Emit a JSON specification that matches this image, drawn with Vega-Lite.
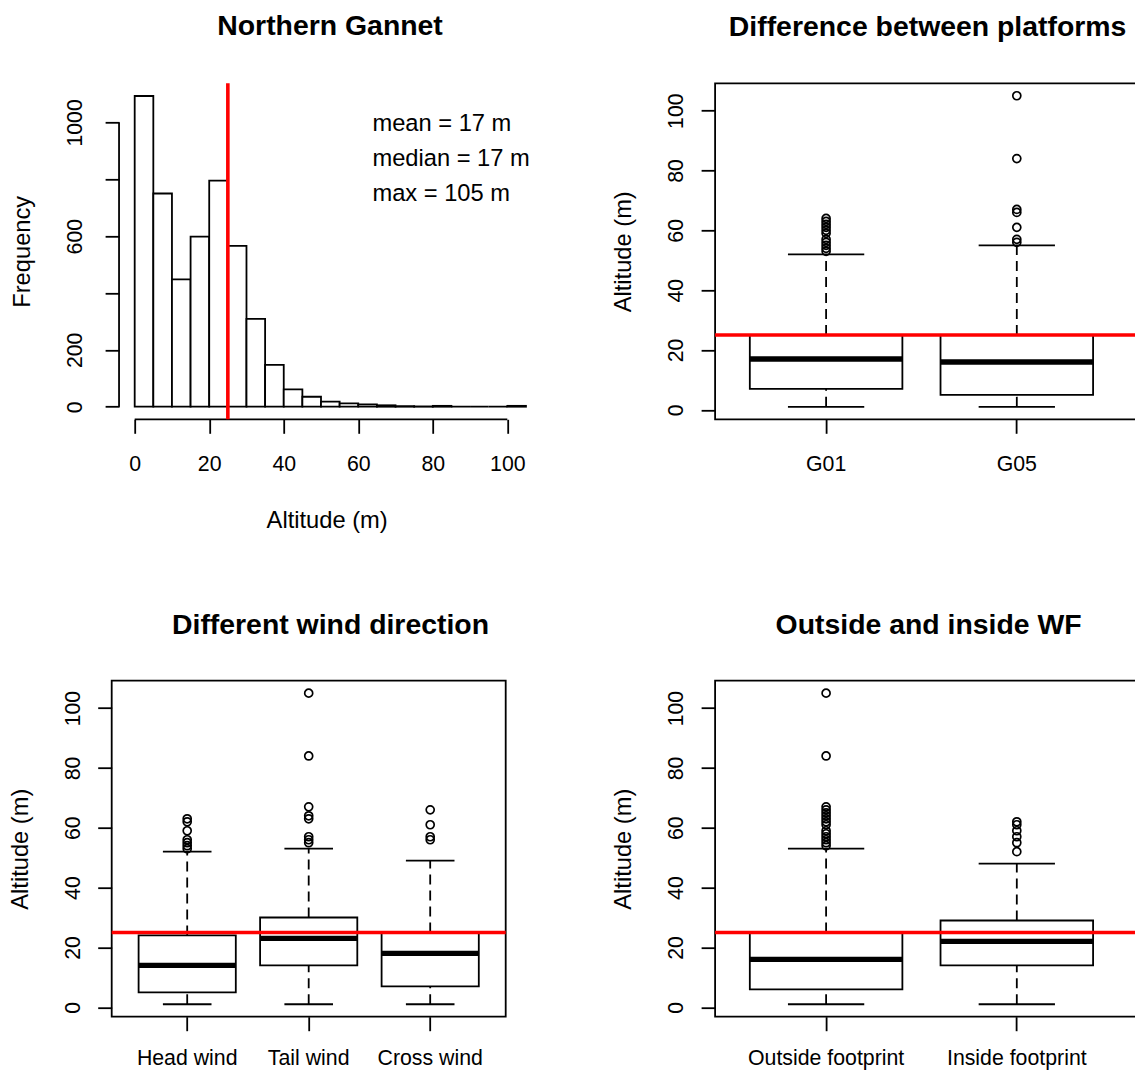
{
  "$schema": "https://vega.github.io/schema/vega-lite/v6.json",
  "autosize": {"type": "none"},
  "padding": {"left": 111.7, "top": 83.3, "right": 1023.3, "bottom": 986.7},
  "background": "white",
  "datasets": {
    "hist": [
      {"start": 0, "end": 5, "count": 1093},
      {"start": 5, "end": 10, "count": 750},
      {"start": 10, "end": 15, "count": 448},
      {"start": 15, "end": 20, "count": 598},
      {"start": 20, "end": 25, "count": 795},
      {"start": 25, "end": 30, "count": 566},
      {"start": 30, "end": 35, "count": 309},
      {"start": 35, "end": 40, "count": 147},
      {"start": 40, "end": 45, "count": 61},
      {"start": 45, "end": 50, "count": 35},
      {"start": 50, "end": 55, "count": 18},
      {"start": 55, "end": 60, "count": 12},
      {"start": 60, "end": 65, "count": 8},
      {"start": 65, "end": 70, "count": 5},
      {"start": 70, "end": 75, "count": 2},
      {"start": 75, "end": 80, "count": 1},
      {"start": 80, "end": 85, "count": 3},
      {"start": 85, "end": 90, "count": 0},
      {"start": 90, "end": 95, "count": 0},
      {"start": 95, "end": 100, "count": 0},
      {"start": 100, "end": 105, "count": 3}
    ],
    "platStats": [
      {"group": "G01", "lo": 1, "q1": 7, "median": 17, "q3": 25, "hi": 52},
      {"group": "G05", "lo": 1, "q1": 5, "median": 16, "q3": 25, "hi": 55}
    ],
    "platOut": [
      {"group": "G01", "value": 53}, {"group": "G01", "value": 54}, {"group": "G01", "value": 55},
      {"group": "G01", "value": 56}, {"group": "G01", "value": 57}, {"group": "G01", "value": 59},
      {"group": "G01", "value": 60}, {"group": "G01", "value": 61}, {"group": "G01", "value": 62},
      {"group": "G01", "value": 63}, {"group": "G01", "value": 64},
      {"group": "G05", "value": 56}, {"group": "G05", "value": 57}, {"group": "G05", "value": 61},
      {"group": "G05", "value": 66}, {"group": "G05", "value": 67}, {"group": "G05", "value": 84},
      {"group": "G05", "value": 105}
    ],
    "windStats": [
      {"group": "Head wind", "lo": 1, "q1": 5, "median": 14, "q3": 24, "hi": 52},
      {"group": "Tail wind", "lo": 1, "q1": 14, "median": 23, "q3": 30, "hi": 53},
      {"group": "Cross wind", "lo": 1, "q1": 7, "median": 18, "q3": 25, "hi": 49}
    ],
    "windOut": [
      {"group": "Head wind", "value": 53}, {"group": "Head wind", "value": 54}, {"group": "Head wind", "value": 55},
      {"group": "Head wind", "value": 56}, {"group": "Head wind", "value": 59}, {"group": "Head wind", "value": 62},
      {"group": "Head wind", "value": 63},
      {"group": "Tail wind", "value": 55}, {"group": "Tail wind", "value": 56}, {"group": "Tail wind", "value": 57},
      {"group": "Tail wind", "value": 63}, {"group": "Tail wind", "value": 64}, {"group": "Tail wind", "value": 67},
      {"group": "Tail wind", "value": 84}, {"group": "Tail wind", "value": 105},
      {"group": "Cross wind", "value": 56}, {"group": "Cross wind", "value": 57}, {"group": "Cross wind", "value": 61},
      {"group": "Cross wind", "value": 66}
    ],
    "wfStats": [
      {"group": "Outside footprint", "lo": 1, "q1": 6, "median": 16, "q3": 25, "hi": 53},
      {"group": "Inside footprint", "lo": 1, "q1": 14, "median": 22, "q3": 29, "hi": 48}
    ],
    "wfOut": [
      {"group": "Outside footprint", "value": 54}, {"group": "Outside footprint", "value": 55},
      {"group": "Outside footprint", "value": 56}, {"group": "Outside footprint", "value": 57},
      {"group": "Outside footprint", "value": 58}, {"group": "Outside footprint", "value": 59},
      {"group": "Outside footprint", "value": 61}, {"group": "Outside footprint", "value": 62},
      {"group": "Outside footprint", "value": 63}, {"group": "Outside footprint", "value": 64},
      {"group": "Outside footprint", "value": 65}, {"group": "Outside footprint", "value": 66},
      {"group": "Outside footprint", "value": 67}, {"group": "Outside footprint", "value": 84},
      {"group": "Outside footprint", "value": 105},
      {"group": "Inside footprint", "value": 52}, {"group": "Inside footprint", "value": 55},
      {"group": "Inside footprint", "value": 57}, {"group": "Inside footprint", "value": 59},
      {"group": "Inside footprint", "value": 61}, {"group": "Inside footprint", "value": 62}
    ]
  },
  "columns": 2,
  "spacing": {"row": 261.4, "column": 173.4},
  "bounds": "flush",
  "align": "each",
  "concat": [
    {
      "width": 429.9,
      "height": 336,
      "view": {"stroke": null},
      "title": {"text": "Northern Gannet", "dx": 3.4},
      "layer": [
        {
          "data": {"name": "hist"},
          "mark": {"type": "bar", "fill": "white", "stroke": "black", "strokeWidth": 1.8},
          "encoding": {
            "x": {"field": "start", "type": "quantitative", "title": "Altitude (m)",
                  "scale": {"domain": [-6.17, 109.2], "nice": false, "zero": false},
                  "axis": {"values": [0, 20, 40, 60, 80, 100], "labelPadding": 20, "titlePadding": 34}},
            "x2": {"field": "end"},
            "y": {"field": "count", "type": "quantitative", "title": "Frequency",
                  "scale": {"domain": [-44.3, 1137.6], "nice": false, "zero": false},
                  "axis": {"values": [0, 200, 400, 600, 800, 1000], "format": "d", "offset": -7.4, "labelPadding": 19.4, "titlePadding": 30,
                           "labelExpr": "datum.value == 400 || datum.value == 800 ? '' : datum.label"}},
            "y2": {"datum": 0}
          }
        },
        {
          "data": {"values": [{}]},
          "mark": {"type": "rule", "color": "black", "strokeWidth": 1.8},
          "encoding": {"x": {"datum": 0}, "x2": {"datum": 100}, "y": {"datum": -44.3}}
        },
        {
          "data": {"values": [{}]},
          "mark": {"type": "rule", "color": "black", "strokeWidth": 1.8},
          "encoding": {"x": {"datum": -4.2}, "y": {"datum": 0}, "y2": {"datum": 1000}}
        },
        {
          "data": {"values": [{}]},
          "mark": {"type": "rule", "color": "#FF0000", "strokeWidth": 3.6},
          "encoding": {"x": {"datum": 25}}
        },
        {
          "data": {"values": [{}]},
          "mark": {"type": "text", "text": ["mean = 17 m", "median = 17 m", "max = 105 m"], "lineHeight": 35,
                   "align": "left", "baseline": "alphabetic", "fontSize": 23.7, "color": "black"},
          "encoding": {"x": {"datum": 63.8}, "y": {"datum": 970.5}}
        }
      ]
    },
    {
      "width": 425,
      "height": 336,
      "title": {"text": "Difference between platforms", "dx": 0},
      "encoding": {
        "x": {"field": "group", "type": "nominal", "sort": null, "title": null,
              "scale": {"type": "band", "domain": ["G01", "G05"], "paddingInner": 0, "paddingOuter": 0.1143, "align": 0.359},
              "axis": {"labelAngle": 0, "labelPadding": 20}}
      },
      "layer": [
        {
          "data": {"name": "platStats"},
          "mark": {"type": "rule", "color": "black", "strokeWidth": 1.8, "strokeDash": [10, 6]},
          "encoding": {
            "y": {"field": "q3", "type": "quantitative", "title": "Altitude (m)",
                  "scale": {"domain": [-3.16, 109.16], "nice": false, "zero": false},
                  "axis": {"values": [0, 20, 40, 60, 80, 100], "labelPadding": 14.5, "titlePadding": 30}},
            "y2": {"field": "hi"}
          }
        },
        {
          "data": {"name": "platStats"},
          "mark": {"type": "rule", "color": "black", "strokeWidth": 1.8, "strokeDash": [10, 6]},
          "encoding": {"y": {"field": "lo", "type": "quantitative", "title": "Altitude (m)"}, "y2": {"field": "q1"}}
        },
        {
          "data": {"name": "platStats"},
          "mark": {"type": "bar", "width": {"band": 0.8}, "fill": "white", "stroke": "black", "strokeWidth": 1.8},
          "encoding": {"y": {"field": "q1", "type": "quantitative", "title": "Altitude (m)"}, "y2": {"field": "q3"}}
        },
        {
          "data": {"name": "platStats"},
          "mark": {"type": "tick", "size": 152.6, "thickness": 5.3, "color": "black", "opacity": 1},
          "encoding": {"y": {"field": "median", "type": "quantitative", "title": "Altitude (m)"}}
        },
        {
          "data": {"name": "platStats"},
          "mark": {"type": "tick", "size": 76.3, "thickness": 1.8, "color": "black", "opacity": 1},
          "encoding": {"y": {"field": "lo", "type": "quantitative", "title": "Altitude (m)"}}
        },
        {
          "data": {"name": "platStats"},
          "mark": {"type": "tick", "size": 76.3, "thickness": 1.8, "color": "black", "opacity": 1},
          "encoding": {"y": {"field": "hi", "type": "quantitative", "title": "Altitude (m)"}}
        },
        {
          "data": {"name": "platOut"},
          "mark": {"type": "point", "shape": "circle", "filled": false, "size": 64, "strokeWidth": 1.7, "color": "black", "opacity": 1},
          "encoding": {"y": {"field": "value", "type": "quantitative", "title": "Altitude (m)"}}
        },
        {
          "data": {"values": [{}]},
          "mark": {"type": "rule", "color": "#FF0000", "strokeWidth": 3.6},
          "encoding": {"x": null, "y": {"datum": 25}}
        }
      ]
    },
    {
      "width": 394,
      "height": 336,
      "title": {"text": "Different wind direction", "dx": 21.8},
      "encoding": {
        "x": {"field": "group", "type": "nominal", "sort": null, "title": null,
              "scale": {"type": "band", "domain": ["Head wind", "Tail wind", "Cross wind"], "paddingInner": 0, "paddingOuter": 0.1214, "align": 0.5},
              "axis": {"labelAngle": 0, "labelPadding": 17}}
      },
      "layer": [
        {
          "data": {"name": "windStats"},
          "mark": {"type": "rule", "color": "black", "strokeWidth": 1.8, "strokeDash": [10, 6]},
          "encoding": {
            "y": {"field": "q3", "type": "quantitative", "title": "Altitude (m)",
                  "scale": {"domain": [-3.16, 109.16], "nice": false, "zero": false},
                  "axis": {"values": [0, 20, 40, 60, 80, 100], "labelPadding": 14.5, "titlePadding": 30}},
            "y2": {"field": "hi"}
          }
        },
        {
          "data": {"name": "windStats"},
          "mark": {"type": "rule", "color": "black", "strokeWidth": 1.8, "strokeDash": [10, 6]},
          "encoding": {"y": {"field": "lo", "type": "quantitative", "title": "Altitude (m)"}, "y2": {"field": "q1"}}
        },
        {
          "data": {"name": "windStats"},
          "mark": {"type": "bar", "width": {"band": 0.8}, "fill": "white", "stroke": "black", "strokeWidth": 1.8},
          "encoding": {"y": {"field": "q1", "type": "quantitative", "title": "Altitude (m)"}, "y2": {"field": "q3"}}
        },
        {
          "data": {"name": "windStats"},
          "mark": {"type": "tick", "size": 97.2, "thickness": 5.3, "color": "black", "opacity": 1},
          "encoding": {"y": {"field": "median", "type": "quantitative", "title": "Altitude (m)"}}
        },
        {
          "data": {"name": "windStats"},
          "mark": {"type": "tick", "size": 48.6, "thickness": 1.8, "color": "black", "opacity": 1},
          "encoding": {"y": {"field": "lo", "type": "quantitative", "title": "Altitude (m)"}}
        },
        {
          "data": {"name": "windStats"},
          "mark": {"type": "tick", "size": 48.6, "thickness": 1.8, "color": "black", "opacity": 1},
          "encoding": {"y": {"field": "hi", "type": "quantitative", "title": "Altitude (m)"}}
        },
        {
          "data": {"name": "windOut"},
          "mark": {"type": "point", "shape": "circle", "filled": false, "size": 64, "strokeWidth": 1.7, "color": "black", "opacity": 1},
          "encoding": {"y": {"field": "value", "type": "quantitative", "title": "Altitude (m)"}}
        },
        {
          "data": {"values": [{}]},
          "mark": {"type": "rule", "color": "#FF0000", "strokeWidth": 3.6},
          "encoding": {"x": null, "y": {"datum": 25}}
        }
      ]
    },
    {
      "width": 425,
      "height": 336,
      "title": {"text": "Outside and inside WF", "dx": 1},
      "encoding": {
        "x": {"field": "group", "type": "nominal", "sort": null, "title": null,
              "scale": {"type": "band", "domain": ["Outside footprint", "Inside footprint"], "paddingInner": 0, "paddingOuter": 0.1143, "align": 0.359},
              "axis": {"labelAngle": 0, "labelPadding": 17}}
      },
      "layer": [
        {
          "data": {"name": "wfStats"},
          "mark": {"type": "rule", "color": "black", "strokeWidth": 1.8, "strokeDash": [10, 6]},
          "encoding": {
            "y": {"field": "q3", "type": "quantitative", "title": "Altitude (m)",
                  "scale": {"domain": [-3.16, 109.16], "nice": false, "zero": false},
                  "axis": {"values": [0, 20, 40, 60, 80, 100], "labelPadding": 14.5, "titlePadding": 30}},
            "y2": {"field": "hi"}
          }
        },
        {
          "data": {"name": "wfStats"},
          "mark": {"type": "rule", "color": "black", "strokeWidth": 1.8, "strokeDash": [10, 6]},
          "encoding": {"y": {"field": "lo", "type": "quantitative", "title": "Altitude (m)"}, "y2": {"field": "q1"}}
        },
        {
          "data": {"name": "wfStats"},
          "mark": {"type": "bar", "width": {"band": 0.8}, "fill": "white", "stroke": "black", "strokeWidth": 1.8},
          "encoding": {"y": {"field": "q1", "type": "quantitative", "title": "Altitude (m)"}, "y2": {"field": "q3"}}
        },
        {
          "data": {"name": "wfStats"},
          "mark": {"type": "tick", "size": 152.6, "thickness": 5.3, "color": "black", "opacity": 1},
          "encoding": {"y": {"field": "median", "type": "quantitative", "title": "Altitude (m)"}}
        },
        {
          "data": {"name": "wfStats"},
          "mark": {"type": "tick", "size": 76.3, "thickness": 1.8, "color": "black", "opacity": 1},
          "encoding": {"y": {"field": "lo", "type": "quantitative", "title": "Altitude (m)"}}
        },
        {
          "data": {"name": "wfStats"},
          "mark": {"type": "tick", "size": 76.3, "thickness": 1.8, "color": "black", "opacity": 1},
          "encoding": {"y": {"field": "hi", "type": "quantitative", "title": "Altitude (m)"}}
        },
        {
          "data": {"name": "wfOut"},
          "mark": {"type": "point", "shape": "circle", "filled": false, "size": 64, "strokeWidth": 1.7, "color": "black", "opacity": 1},
          "encoding": {"y": {"field": "value", "type": "quantitative", "title": "Altitude (m)"}}
        },
        {
          "data": {"values": [{}]},
          "mark": {"type": "rule", "color": "#FF0000", "strokeWidth": 3.6},
          "encoding": {"x": null, "y": {"datum": 25}}
        }
      ]
    }
  ],
  "config": {
    "font": "Liberation Sans",
    "view": {"stroke": "black", "strokeWidth": 1.8},
    "axis": {
      "domain": false, "grid": false,
      "ticks": true, "tickColor": "black", "tickWidth": 1.8, "tickSize": 14,
      "labelColor": "black", "labelFontSize": 21.3, "labelFont": "Liberation Sans", "labelOverlap": false,
      "titleColor": "black", "titleFontSize": 23.7, "titleFontWeight": "normal", "titleFont": "Liberation Sans"
    },
    "axisY": {"labelAngle": -90, "labelAlign": "center", "labelBaseline": "bottom"},
    "title": {"fontSize": 28.4, "fontWeight": "bold", "color": "black", "font": "Liberation Sans",
              "frame": "group", "baseline": "alphabetic", "offset": 40.6, "anchor": "middle"}
  }
}
